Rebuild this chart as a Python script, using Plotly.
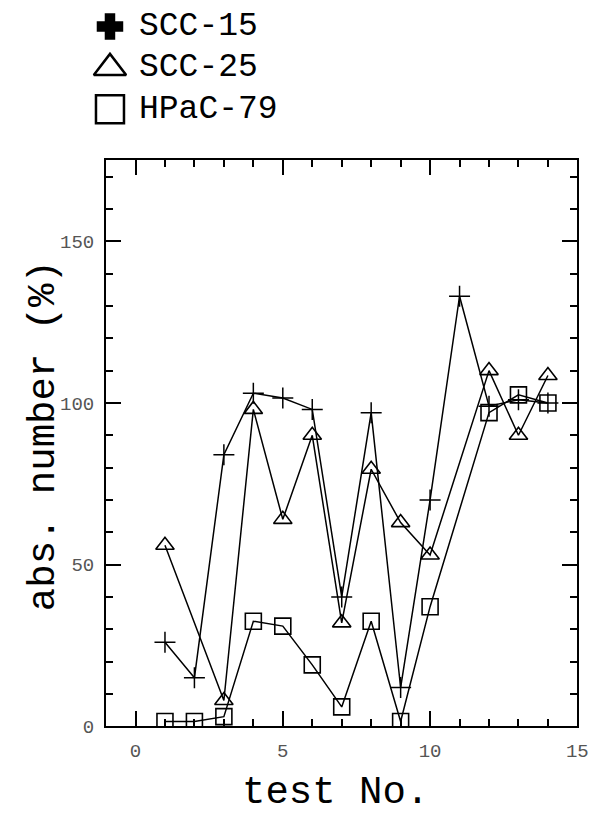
import plotly.graph_objects as go

# ---- data ----
test_no = [1, 2, 3, 4, 5, 6, 7, 8, 9, 10, 11, 12, 13, 14]
scc15 = [26, 15, 84, 103, 101.5, 98, 40, 97, 12, 70, 133, 99, 101, 100]
scc25 = [56, None, 8, 98, 64, 90, 32, 79.5, 63, 53, None, 110, 90, 108.5]
hpac79 = [1.5, 1.5, 3, 32.5, 31, 19, 6, 32.5, 1.5, 37, None, 97, 102.5, 100]

series_names = ["SCC-15", "SCC-25", "HPaC-79"]
x_ticks = [0, 5, 10, 15]
y_ticks = [0, 50, 100, 150]

W, H = 609, 822
L, R, T, B = 108, 588, 163, 738  # plot box in pixels

FONT = "Liberation Mono, Courier New, monospace"
INK = "black"

fig = go.Figure()

line_style = dict(color=INK, width=1.5)
fig.add_trace(go.Scatter(x=test_no, y=scc15, mode="lines+markers", connectgaps=True,
                         line=line_style, showlegend=False,
                         marker=dict(symbol="cross-thin-open", size=15,
                                     line=dict(color=INK, width=1.5))))
fig.add_trace(go.Scatter(x=test_no, y=scc25, mode="lines+markers", connectgaps=True,
                         line=line_style, showlegend=False,
                         marker=dict(symbol="triangle-up-open", size=16, color=INK,
                                     line=dict(color=INK, width=1.6))))
fig.add_trace(go.Scatter(x=test_no, y=hpac79, mode="lines+markers", connectgaps=True,
                         line=line_style, showlegend=False,
                         marker=dict(symbol="square-open", size=16, color=INK,
                                     line=dict(color=INK, width=1.6))))

# ---- custom legend drawn on a pixel-space overlay axis ----
leg_y = [27, 69, 111]
leg_symbols = ["cross", "triangle-up-open", "square-open"]
leg_sizes = [20, 28, 28]
for yy, sym, sz in zip(leg_y, leg_symbols, leg_sizes):
    fig.add_trace(go.Scatter(x=[112], y=[yy], xaxis="x2", yaxis="y2", mode="markers",
                             showlegend=False, hoverinfo="skip",
                             marker=dict(symbol=sym, size=sz, color=INK,
                                         line=dict(color=INK, width=2.5))))
for yy, name in zip(leg_y, series_names):
    fig.add_annotation(x=140, y=yy, xref="x2", yref="y2", text=name, showarrow=False,
                       xanchor="left", yanchor="middle",
                       font=dict(family=FONT, size=33, color=INK))

# axis titles
fig.add_annotation(x=(L + R) / 2 - 6, y=806, xref="x2", yref="y2", text="test No.",
                   showarrow=False, xanchor="center", yanchor="middle",
                   font=dict(family=FONT, size=39, color=INK))
fig.add_annotation(x=45, y=443, xref="x2", yref="y2", text="abs. number (%)",
                   showarrow=False, textangle=-90, xanchor="center", yanchor="middle",
                   font=dict(family=FONT, size=39, color=INK))

tick_common = dict(ticks="inside", ticklen=15, tickwidth=2, tickcolor=INK,
                   showline=True, linecolor=INK, linewidth=2, mirror="allticks",
                   showgrid=False, zeroline=False, ticklabelstandoff=6,
                   tickfont=dict(family=FONT, size=19, color="#555555"))

fig.update_layout(
    width=W, height=H,
    margin=dict(l=0, r=0, t=0, b=0),
    paper_bgcolor="white", plot_bgcolor="rgba(0,0,0,0)",
    showlegend=False,
    xaxis=dict(domain=[L / W, R / W], range=[-1, 15], tickvals=x_ticks,
               minor=dict(tickvals=test_no, ticks="inside", ticklen=7, tickwidth=2,
                          tickcolor=INK, showgrid=False),
               **tick_common),
    yaxis=dict(domain=[(H - B) / H, (H - T) / H], range=[0, 175], tickvals=y_ticks,
               minor=dict(dtick=10, tick0=0, ticks="inside", ticklen=7, tickwidth=1.6,
                          tickcolor=INK, showgrid=False),
               **tick_common),
    xaxis2=dict(domain=[0, 1], range=[0, W], visible=False, fixedrange=True, anchor="y2"),
    yaxis2=dict(domain=[0, 1], range=[H, 0], visible=False, fixedrange=True, anchor="x2"),
)

fig.write_html("out.html")
